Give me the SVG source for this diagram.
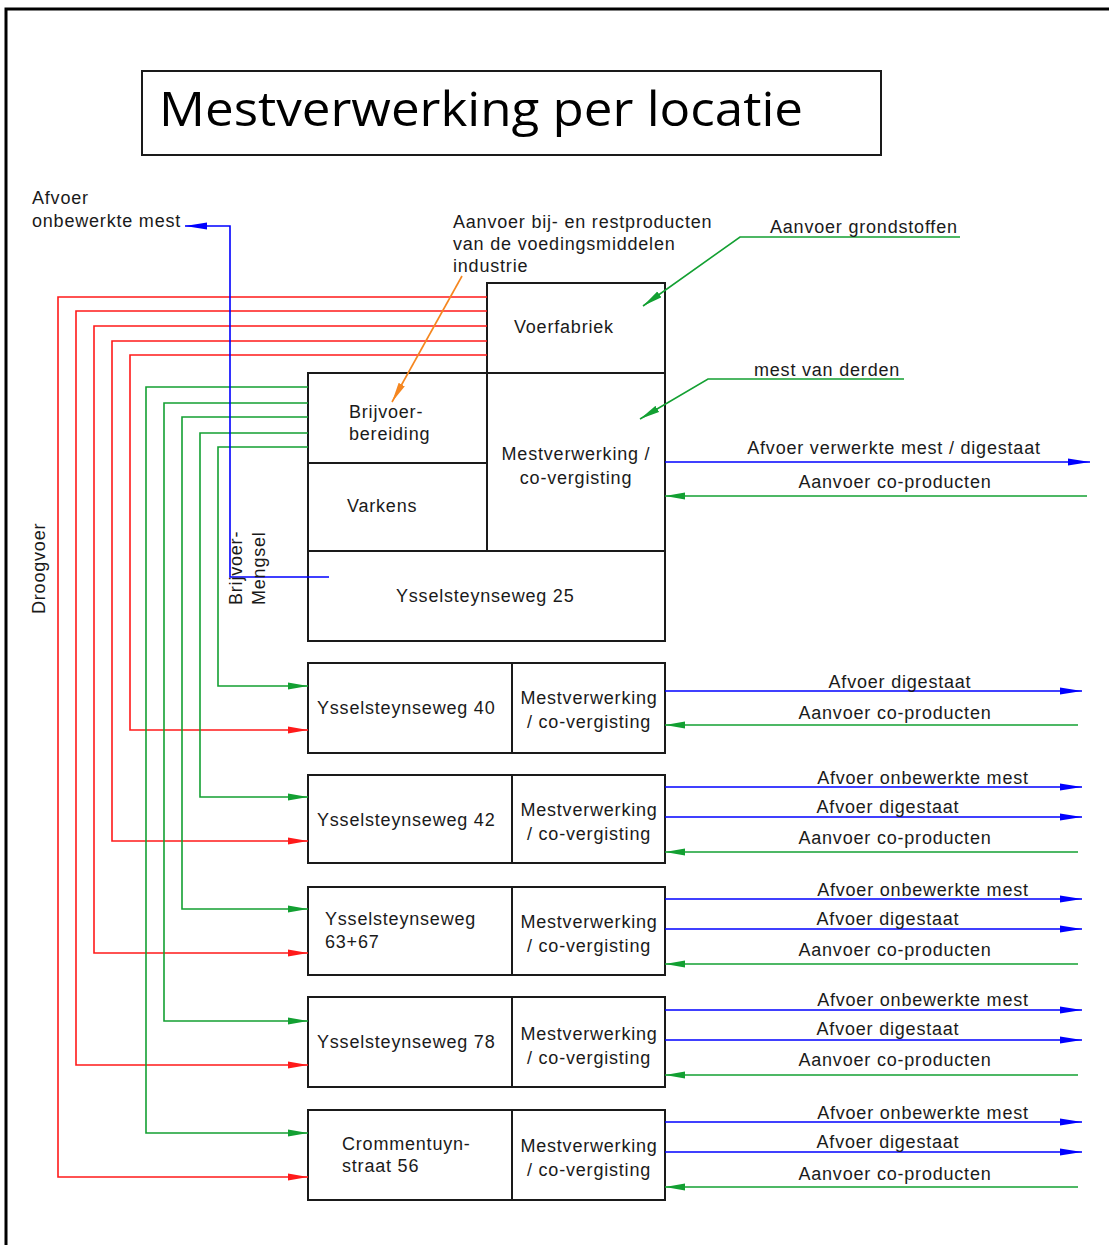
<svg xmlns="http://www.w3.org/2000/svg" width="1109" height="1245" viewBox="0 0 1109 1245">
<style>
  text { font-family: "Liberation Sans", Arial, sans-serif; font-size: 18px; letter-spacing: 0.8px; fill: #1a1a1a; }
  .mid { text-anchor: middle; }
  .box { fill: #ffffff; stroke: #1a1a1a; stroke-width: 2; }
  .div { stroke: #1a1a1a; stroke-width: 2; fill: none; }
  .red { stroke: #ff1a1a; stroke-width: 1.6; fill: none; marker-end: url(#ar); }
  .grn { stroke: #13a032; stroke-width: 1.6; fill: none; marker-end: url(#ag); }
  .blu { stroke: #0000ff; stroke-width: 1.6; fill: none; marker-end: url(#ab); }
  .org { stroke: #f5861f; stroke-width: 1.6; fill: none; marker-end: url(#ao); }
  .title { font-family: "Open Sans", "Noto Sans", sans-serif; font-size: 48px; letter-spacing: 0; fill: #000; }
</style>
<defs>
  <marker id="ar" markerUnits="userSpaceOnUse" markerWidth="20" markerHeight="8" refX="20" refY="4" orient="auto"><path d="M0,0.5 L20,4 L0,7.5 z" fill="#ff1a1a"/></marker>
  <marker id="ag" markerUnits="userSpaceOnUse" markerWidth="20" markerHeight="8" refX="20" refY="4" orient="auto"><path d="M0,0.5 L20,4 L0,7.5 z" fill="#13a032"/></marker>
  <marker id="ab" markerUnits="userSpaceOnUse" markerWidth="22" markerHeight="8" refX="22" refY="4" orient="auto"><path d="M0,0.5 L22,4 L0,7.5 z" fill="#0000ff"/></marker>
  <marker id="ao" markerUnits="userSpaceOnUse" markerWidth="20" markerHeight="8" refX="20" refY="4" orient="auto"><path d="M0,0.5 L20,4 L0,7.5 z" fill="#f5861f"/></marker>
</defs>
<rect x="0" y="0" width="1109" height="1245" fill="#ffffff"/>
<path d="M6,1245 V9 H1109" fill="none" stroke="#000" stroke-width="3"/>

<g id="title">
  <rect x="142" y="71" width="739" height="84" fill="#fff" stroke="#1a1a1a" stroke-width="2"/>
  <text class="title" x="159" y="126" textLength="644" lengthAdjust="spacingAndGlyphs">Mestverwerking per locatie</text>
</g>

<g id="voerfabriek">
  <rect class="box" x="487" y="283" width="178" height="90"/>
  <text x="514" y="333">Voerfabriek</text>
</g>
<g id="ysselsteynseweg-25">
  <rect class="box" x="308" y="373" width="357" height="268"/>
  <path class="div" d="M308,551 H665"/>
  <text x="396" y="602">Ysselsteynseweg 25</text>
</g>
<g id="brijvoerbereiding">
  <rect class="box" x="308" y="373" width="179" height="90"/>
  <text x="349" y="418">Brijvoer-</text>
  <text x="349" y="440">bereiding</text>
</g>
<g id="varkens">
  <rect class="box" x="308" y="463" width="179" height="88"/>
  <text x="347" y="512">Varkens</text>
</g>
<g id="mestverwerking-25">
  <rect class="box" x="487" y="373" width="178" height="178"/>
  <text class="mid" x="576" y="460">Mestverwerking /</text>
  <text class="mid" x="576" y="484">co-vergisting</text>
</g>

<g id="ysselsteynseweg-40">
  <rect class="box" x="308" y="663" width="357" height="90"/>
  <path class="div" d="M512,663 V753"/>
  <text x="317" y="714">Ysselsteynseweg 40</text>
  <text class="mid" x="589" y="704">Mestverwerking</text>
  <text class="mid" x="589" y="728">/ co-vergisting</text>
</g>
<g id="ysselsteynseweg-42">
  <rect class="box" x="308" y="775" width="357" height="88"/>
  <path class="div" d="M512,775 V863"/>
  <text x="317" y="826">Ysselsteynseweg 42</text>
  <text class="mid" x="589" y="816">Mestverwerking</text>
  <text class="mid" x="589" y="840">/ co-vergisting</text>
</g>
<g id="ysselsteynseweg-63-67">
  <rect class="box" x="308" y="887" width="357" height="88"/>
  <path class="div" d="M512,887 V975"/>
  <text x="325" y="925">Ysselsteynseweg</text>
  <text x="325" y="948">63+67</text>
  <text class="mid" x="589" y="928">Mestverwerking</text>
  <text class="mid" x="589" y="952">/ co-vergisting</text>
</g>
<g id="ysselsteynseweg-78">
  <rect class="box" x="308" y="997" width="357" height="90"/>
  <path class="div" d="M512,997 V1087"/>
  <text x="317" y="1048">Ysselsteynseweg 78</text>
  <text class="mid" x="589" y="1040">Mestverwerking</text>
  <text class="mid" x="589" y="1064">/ co-vergisting</text>
</g>
<g id="crommentuynstraat-56">
  <rect class="box" x="308" y="1110" width="357" height="90"/>
  <path class="div" d="M512,1110 V1200"/>
  <text x="342" y="1150">Crommentuyn-</text>
  <text x="342" y="1172">straat 56</text>
  <text class="mid" x="589" y="1152">Mestverwerking</text>
  <text class="mid" x="589" y="1176">/ co-vergisting</text>
</g>

<g id="connectors">
  <path class="red" d="M487,297 H58 V1177 H308"/>
  <path class="red" d="M487,311 H76 V1065 H308"/>
  <path class="red" d="M487,326 H94 V953 H308"/>
  <path class="red" d="M487,341 H112 V841 H308"/>
  <path class="red" d="M487,355 H130 V730 H308"/>
  <path class="grn" d="M308,387 H146 V1133 H308"/>
  <path class="grn" d="M308,403 H164 V1021 H308"/>
  <path class="grn" d="M308,417 H182 V909 H308"/>
  <path class="grn" d="M308,433 H200 V797 H308"/>
  <path class="grn" d="M308,447 H218 V686 H308"/>
  <path class="blu" d="M329,577 H230 V226 H185"/>
  <path class="org" d="M462,276 L392,402"/>
  <path class="grn" d="M960,237 H740 L643,306"/>
  <path class="grn" d="M904,379 H708 L640,419"/>
  <path class="blu" d="M665,462 H1090"/>
  <path class="grn" d="M1087,496 H665"/>
  <path class="blu" d="M665,691 H1082"/>
  <path class="grn" d="M1078,725 H665"/>
  <path class="blu" d="M665,787 H1082"/>
  <path class="blu" d="M665,817 H1082"/>
  <path class="grn" d="M1078,852 H665"/>
  <path class="blu" d="M665,899 H1082"/>
  <path class="blu" d="M665,929 H1082"/>
  <path class="grn" d="M1078,964 H665"/>
  <path class="blu" d="M665,1010 H1082"/>
  <path class="blu" d="M665,1040 H1082"/>
  <path class="grn" d="M1078,1075 H665"/>
  <path class="blu" d="M665,1122 H1082"/>
  <path class="blu" d="M665,1152 H1082"/>
  <path class="grn" d="M1078,1187 H665"/>
</g>

<g id="labels">
  <text x="32" y="204">Afvoer</text>
  <text x="32" y="227">onbewerkte mest</text>
  <text x="453" y="228">Aanvoer bij- en restproducten</text>
  <text x="453" y="250">van de voedingsmiddelen</text>
  <text x="453" y="272">industrie</text>
  <text x="770" y="233">Aanvoer grondstoffen</text>
  <text x="754" y="376">mest van derden</text>
  <text transform="translate(45,614) rotate(-90)">Droogvoer</text>
  <text transform="translate(242,605) rotate(-90)">Brijvoer-</text>
  <text transform="translate(265,605) rotate(-90)">Mengsel</text>
  <text class="mid" x="894" y="454">Afvoer verwerkte mest / digestaat</text>
  <text class="mid" x="895" y="488">Aanvoer co-producten</text>
  <text class="mid" x="900" y="688">Afvoer digestaat</text>
  <text class="mid" x="895" y="719">Aanvoer co-producten</text>
  <text class="mid" x="923" y="784">Afvoer onbewerkte mest</text>
  <text class="mid" x="888" y="813">Afvoer digestaat</text>
  <text class="mid" x="895" y="844">Aanvoer co-producten</text>
  <text class="mid" x="923" y="896">Afvoer onbewerkte mest</text>
  <text class="mid" x="888" y="925">Afvoer digestaat</text>
  <text class="mid" x="895" y="956">Aanvoer co-producten</text>
  <text class="mid" x="923" y="1006">Afvoer onbewerkte mest</text>
  <text class="mid" x="888" y="1035">Afvoer digestaat</text>
  <text class="mid" x="895" y="1066">Aanvoer co-producten</text>
  <text class="mid" x="923" y="1119">Afvoer onbewerkte mest</text>
  <text class="mid" x="888" y="1148">Afvoer digestaat</text>
  <text class="mid" x="895" y="1180">Aanvoer co-producten</text>
</g>
</svg>
